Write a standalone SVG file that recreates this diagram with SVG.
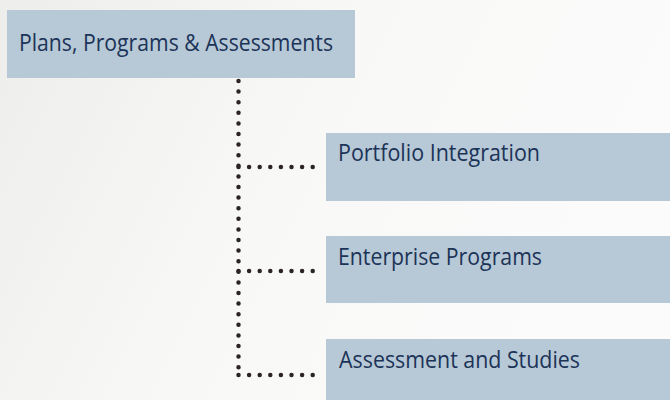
<svg xmlns="http://www.w3.org/2000/svg" width="670" height="400" viewBox="0 0 670 400">
<defs>
<linearGradient id="bg" x1="0" y1="0" x2="1" y2="0.3">
<stop offset="0" stop-color="#ededeb"/>
<stop offset="0.5" stop-color="#f8f8f7"/>
<stop offset="1" stop-color="#fbfbfb"/>
</linearGradient>
<style>
.box{fill:#b7c9d6;}
.lbl{font-family:"Open Sans","Liberation Sans",sans-serif;font-size:24px;fill:#1c3358;}
.dot{stroke:#2a2424;stroke-width:4.5;stroke-linecap:round;stroke-dasharray:0 10.6;fill:none;}
</style>
</defs>
<rect width="670" height="400" fill="url(#bg)"/>
<g id="connectors">
<line class="dot" x1="238.5" y1="81" x2="238.5" y2="375"/>
<line class="dot" x1="238.5" y1="167" x2="313" y2="167"/>
<line class="dot" x1="238.5" y1="271" x2="313" y2="271"/>
<line class="dot" x1="238.5" y1="375" x2="313" y2="375"/>
</g>
<g id="node-plans">
<rect class="box" x="7" y="10" width="348" height="68"/>
<text class="lbl" x="19" y="51" textLength="314" lengthAdjust="spacingAndGlyphs">Plans, Programs &amp; Assessments</text>
</g>
<g id="node-portfolio">
<rect class="box" x="326" y="133" width="344" height="68"/>
<text class="lbl" x="338" y="161" textLength="202" lengthAdjust="spacingAndGlyphs">Portfolio Integration</text>
</g>
<g id="node-enterprise">
<rect class="box" x="326" y="236" width="344" height="67"/>
<text class="lbl" x="338" y="265" textLength="204" lengthAdjust="spacingAndGlyphs">Enterprise Programs</text>
</g>
<g id="node-assessment">
<rect class="box" x="326" y="339" width="344" height="61"/>
<text class="lbl" x="339" y="368" textLength="241" lengthAdjust="spacingAndGlyphs">Assessment and Studies</text>
</g>
</svg>
